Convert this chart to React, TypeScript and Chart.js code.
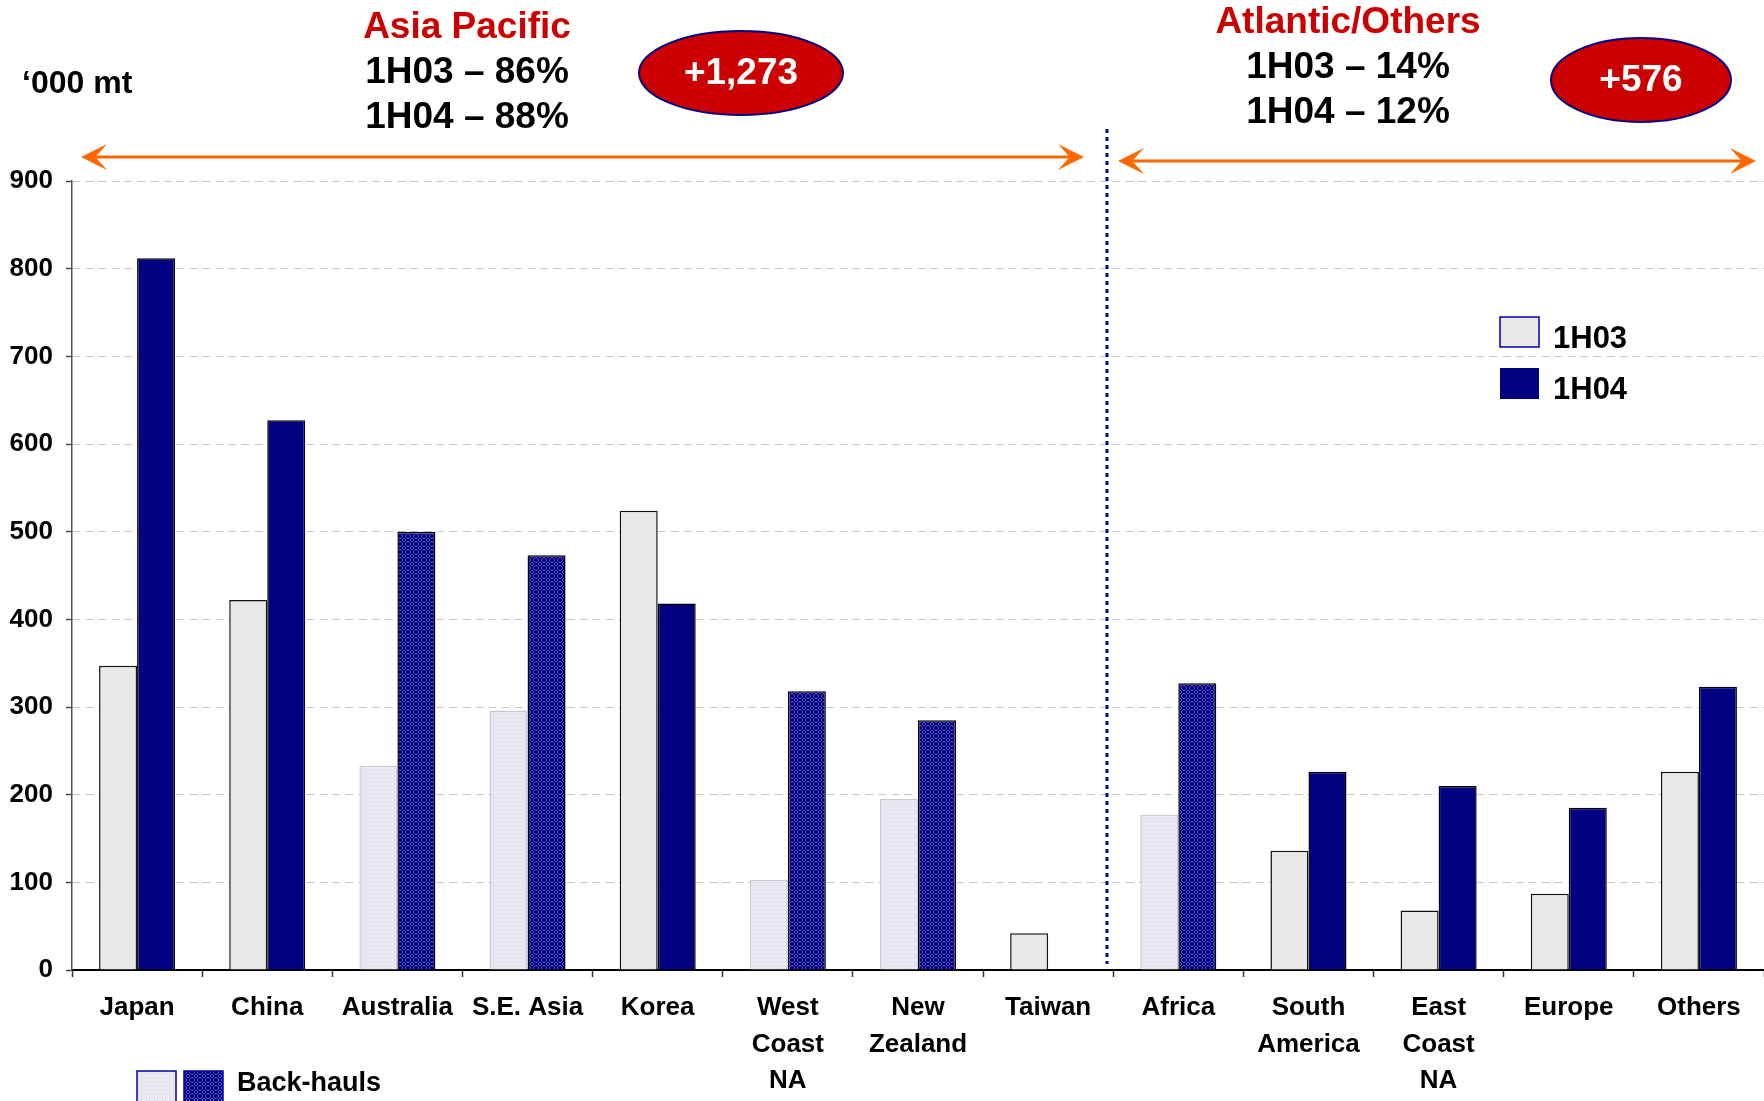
import React, { useEffect, useRef } from 'react';
import { Chart, registerables } from 'chart.js';

Chart.register(...registerables);

// ---------- data ----------
const categories: (string | string[])[] = [
  'Japan', 'China', 'Australia', 'S.E. Asia', 'Korea',
  ['West', 'Coast', 'NA'], ['New', 'Zealand'], 'Taiwan',
  'Africa', ['South', 'America'], ['East', 'Coast', 'NA'], 'Europe', 'Others',
];
const series1H03: (number | null)[] = [347, 422, 233, 296, 524, 103, 195, 42, 177, 136, 68, 87, 226];
const series1H04: (number | null)[] = [812, 627, 500, 473, 418, 318, 285, null, 327, 226, 210, 185, 323];
const backHauls: boolean[] = [false, false, true, true, false, true, true, false, true, false, false, false, false];
const seriesNames = ['1H03', '1H04'];
const yMin = 0;
const yMax = 900;
const yStep = 100;
const unitLabel = '\u2018000 mt';
const regionTitles = ['Asia Pacific', 'Atlantic/Others'];
const regionShares1H03 = ['1H03 \u2013 86%', '1H03 \u2013 14%'];
const regionShares1H04 = ['1H04 \u2013 88%', '1H04 \u2013 12%'];
const regionGrowth = ['+1,273', '+576'];
const backHaulLabel = 'Back-hauls';

const FONT = '"Liberation Sans", Arial, Helvetica, sans-serif';
const NAVY = '#000080';
const LIGHT = '#E8E8E8';
const ORANGE = '#FF6600';
const RED = '#CC0000';

const patternMap = [
  '..#..#..',
  '.#....#.',
  '#..##..#',
  '..#..#..',
  '..#..#..',
  '#..##..#',
  '.#....#.',
  '..#..#..',
];

function makePattern(base: string, dot: string): CanvasPattern | string {
  const c = document.createElement('canvas');
  c.width = 8;
  c.height = 8;
  const g = c.getContext('2d');
  if (!g) return base;
  g.fillStyle = base;
  g.fillRect(0, 0, 8, 8);
  g.fillStyle = dot;
  for (let y = 0; y < 8; y++) {
    for (let x = 0; x < 8; x++) {
      if (patternMap[y][x] === '#') g.fillRect(x, y, 1, 1);
    }
  }
  const p = g.createPattern(c, 'repeat');
  return p || base;
}

function drawArrow(ctx: CanvasRenderingContext2D, x1: number, x2: number, y: number) {
  const L = 26;
  const H = 13;
  ctx.strokeStyle = ORANGE;
  ctx.fillStyle = ORANGE;
  ctx.lineWidth = 3;
  ctx.beginPath();
  ctx.moveTo(x1 + 8, y);
  ctx.lineTo(x2 - 8, y);
  ctx.stroke();
  ctx.beginPath();
  ctx.moveTo(x1, y);
  ctx.lineTo(x1 + L, y - H);
  ctx.lineTo(x1 + L * 0.55, y);
  ctx.lineTo(x1 + L, y + H);
  ctx.closePath();
  ctx.fill();
  ctx.beginPath();
  ctx.moveTo(x2, y);
  ctx.lineTo(x2 - L, y - H);
  ctx.lineTo(x2 - L * 0.55, y);
  ctx.lineTo(x2 - L, y + H);
  ctx.closePath();
  ctx.fill();
}

function drawEllipseLabel(ctx: CanvasRenderingContext2D, cx: number, cy: number, rx: number, ry: number, text: string) {
  ctx.beginPath();
  ctx.ellipse(cx, cy, rx, ry, 0, 0, Math.PI * 2);
  ctx.fillStyle = RED;
  ctx.fill();
  ctx.lineWidth = 2;
  ctx.strokeStyle = NAVY;
  ctx.stroke();
  ctx.fillStyle = '#FFFFFF';
  ctx.font = `bold 37px ${FONT}`;
  ctx.textAlign = 'center';
  ctx.textBaseline = 'middle';
  ctx.fillText(text, cx, cy + 1);
}

export default function App() {
  const ref = useRef<HTMLCanvasElement | null>(null);

  useEffect(() => {
    document.body.style.margin = '0';
    const canvas = ref.current;
    if (!canvas) return;

    const lightPat = makePattern('#EEEEF4', '#D6D6E8');
    const darkPat = makePattern(NAVY, '#5A5AB8');

    const annotations = {
      id: 'annotations',
      afterDraw(chart: any) {
        const ctx: CanvasRenderingContext2D = chart.ctx;
        ctx.save();

        ctx.fillStyle = '#000';
        ctx.font = `bold 32px ${FONT}`;
        ctx.textAlign = 'left';
        ctx.textBaseline = 'alphabetic';
        ctx.fillText(unitLabel, 22, 93);

        ctx.textAlign = 'center';
        ctx.textBaseline = 'middle';
        const titleX = [467, 1348];
        const titleY = [28, 23];
        const l1Y = [73, 68];
        const l2Y = [118, 113];
        for (let i = 0; i < 2; i++) {
          ctx.fillStyle = RED;
          ctx.font = `bold 37px ${FONT}`;
          ctx.fillText(regionTitles[i], titleX[i], titleY[i]);
          ctx.fillStyle = '#000';
          ctx.font = `bold 37px ${FONT}`;
          ctx.fillText(regionShares1H03[i], titleX[i], l1Y[i]);
          ctx.fillText(regionShares1H04[i], titleX[i], l2Y[i]);
        }

        drawEllipseLabel(ctx, 741, 73, 102, 42, regionGrowth[0]);
        drawEllipseLabel(ctx, 1641, 80, 90, 42, regionGrowth[1]);

        drawArrow(ctx, 81, 1084, 157);
        drawArrow(ctx, 1118, 1756, 161);

        ctx.strokeStyle = '#0000AA';
        ctx.lineWidth = 3;
        ctx.setLineDash([4, 4]);
        ctx.beginPath();
        ctx.moveTo(1107, 129);
        ctx.lineTo(1107, 964);
        ctx.stroke();
        ctx.setLineDash([]);

        ctx.lineWidth = 1.5;
        ctx.fillStyle = LIGHT;
        ctx.fillRect(1500, 317, 39, 30);
        ctx.strokeStyle = '#0000AA';
        ctx.strokeRect(1500, 317, 39, 30);
        ctx.fillStyle = NAVY;
        ctx.fillRect(1500, 368, 39, 31);
        ctx.fillStyle = '#000';
        ctx.font = `bold 31px ${FONT}`;
        ctx.textAlign = 'left';
        ctx.textBaseline = 'middle';
        ctx.fillText(seriesNames[0], 1553, 339);
        ctx.fillText(seriesNames[1], 1553, 390);

        ctx.fillStyle = lightPat as any;
        ctx.fillRect(137, 1071, 39, 31);
        ctx.strokeStyle = '#0000AA';
        ctx.strokeRect(137, 1071, 39, 31);
        ctx.fillStyle = darkPat as any;
        ctx.fillRect(184, 1071, 39, 31);
        ctx.strokeRect(184, 1071, 39, 31);
        ctx.fillStyle = '#000';
        ctx.font = `bold 27px ${FONT}`;
        ctx.fillText(backHaulLabel, 237, 1084);

        ctx.restore();
      },
    };

    const chart = new Chart(canvas, {
      type: 'bar',
      data: {
        labels: categories,
        datasets: [
          {
            label: seriesNames[0],
            data: series1H03,
            backgroundColor: (c: any) => (backHauls[c.dataIndex] ? lightPat : LIGHT),
            borderColor: (c: any) => (backHauls[c.dataIndex] ? 'rgba(200,200,215,1)' : '#111'),
            borderWidth: 1.5,
            categoryPercentage: 0.584,
            barPercentage: 1,
          } as any,
          {
            label: seriesNames[1],
            data: series1H04,
            backgroundColor: (c: any) => (backHauls[c.dataIndex] ? darkPat : NAVY),
            borderColor: '#000',
            borderWidth: 1.5,
            categoryPercentage: 0.584,
            barPercentage: 1,
          } as any,
        ],
      },
      options: {
        animation: false,
        responsive: false,
        maintainAspectRatio: false,
        layout: { padding: { top: 181, right: 0, left: 0, bottom: 0 } },
        plugins: {
          legend: { display: false },
          tooltip: { enabled: false },
          title: { display: false },
        },
        scales: {
          x: {
            offset: true,
            afterFit: (s: any) => { s.height = 131; },
            grid: {
              display: true,
              offset: true,
              drawOnChartArea: false,
              drawTicks: true,
              tickLength: 7,
              tickColor: '#333',
              tickWidth: 1.5,
            },
            border: { display: true, color: '#000', width: 2 },
            ticks: {
              autoSkip: false,
              maxRotation: 0,
              minRotation: 0,
              padding: 12,
              color: '#000',
              font: { family: FONT, size: 26, weight: 'bold', lineHeight: 1.42 },
            },
          },
          y: {
            min: yMin,
            max: yMax,
            afterFit: (s: any) => { s.width = 72; },
            grid: {
              color: '#C8C8C8',
              lineWidth: 1,
              tickLength: 6,
              tickColor: '#444',
              tickWidth: 1.5,
              tickBorderDash: [],
            },
            border: { display: true, color: '#555', width: 1.5, dash: [8, 5] },
            ticks: {
              stepSize: yStep,
              padding: 13,
              color: '#000',
              font: { family: FONT, size: 26, weight: 'bold' },
            },
          },
        },
      } as any,
      plugins: [annotations],
    });

    return () => chart.destroy();
  }, []);

  return (
    <div style={{ width: 1764, height: 1101, background: '#fff' }}>
      <canvas ref={ref} width={1764} height={1101} style={{ display: 'block' }} />
    </div>
  );
}
